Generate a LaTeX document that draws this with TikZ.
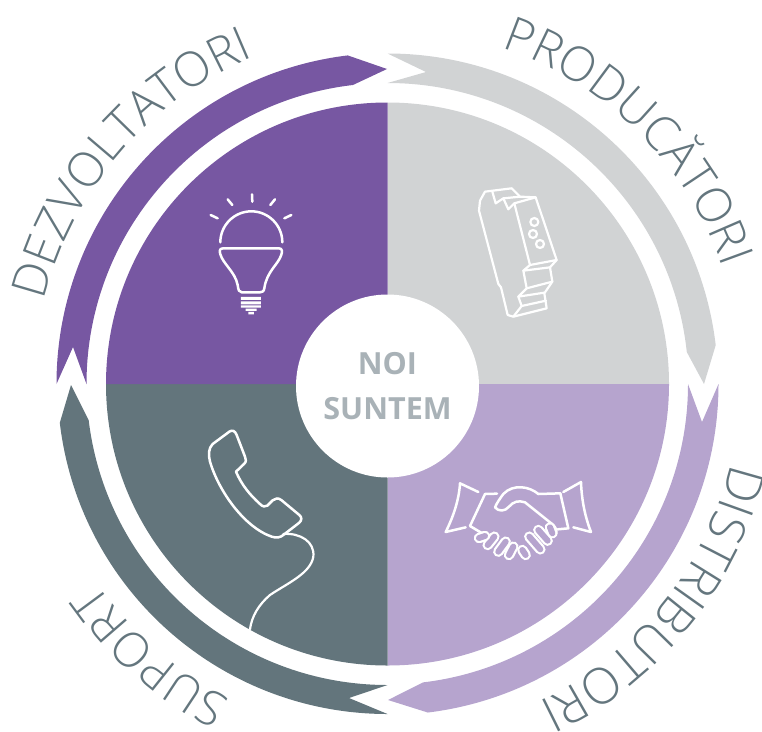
\documentclass[tikz,border=0pt]{standalone}
\usepackage{fontspec}
\setmainfont{Open Sans}
\newfontfamily\lightfont{Open Sans Light}
\usetikzlibrary{decorations.text}
\definecolor{cPurple}{HTML}{7757A2}
\definecolor{cGrey}{HTML}{D1D3D4}
\definecolor{cLilac}{HTML}{B6A4CE}
\definecolor{cSlate}{HTML}{63757C}
\definecolor{cRingText}{HTML}{64767E}
\definecolor{cCentre}{HTML}{A9B2B7}
\newcommand{\ringfont}{\fontsize{48}{48}\selectfont\lightfont\color{cRingText}}
\newcommand{\ringfontwide}{\fontsize{50}{50}\selectfont\lightfont\color{cRingText}}
\tikzset{
  icon/.style={draw=white,line width=2.5pt,line join=round,line cap=round},
  iconthin/.style={draw=white,line width=2.2pt,line join=round,line cap=round},
  ringtext/.style={decorate,decoration={text along path,text align=center,text={#1}}},
}
\newcommand{\finger}[4]{%
  \draw[white,line width=10.5pt,line cap=round] (#1,#2) -- (#3,#4);
  \draw[cLilac,line width=6pt,line cap=round] (#1,#2) -- (#3,#4);}
\begin{document}
\begin{tikzpicture}[x=1pt,y=-1pt]
\useasboundingbox (0,0) rectangle (762,731);
\coordinate (c) at (387.5,384);
% quadrants
\fill[cGrey]   (c) -- ++(-90:281.5) arc[start angle=-90,end angle=0,radius=281.5] -- cycle;
\fill[cLilac]  (c) -- ++(0:281.5) arc[start angle=0,end angle=90,radius=281.5] -- cycle;
\fill[cSlate]  (c) -- ++(90:281.5) arc[start angle=90,end angle=180,radius=281.5] -- cycle;
\fill[cPurple] (c) -- ++(180:281.5) arc[start angle=180,end angle=270,radius=281.5] -- cycle;
% ring arrows
\coordinate (gn) at (426,72);   \coordinate (gt) at (704,384);
\coordinate (ln) at (702,422);  \coordinate (lt) at (388,700);
\coordinate (sn) at (349,698);  \coordinate (st) at (71,385);
\coordinate (pn) at (73,347);   \coordinate (pt) at (387,69);
\fill[cGrey] ([shift={(-90:330.5)}]c) arc[start angle=-90,end angle=-6.75,radius=330.5]
  -- (gt) -- ([shift={(-6.1:301)}]c) arc[start angle=-6.1,end angle=-90,radius=301] -- (gn) -- cycle;
\fill[cLilac] ([shift={(0:331)}]c) arc[start angle=0,end angle=83,radius=331]
  -- (lt) -- ([shift={(83.2:300.5)}]c) arc[start angle=83.2,end angle=0,radius=300.5] -- (ln) -- cycle;
\fill[cSlate] ([shift={(90:330)}]c) arc[start angle=90,end angle=173.25,radius=330]
  -- (st) -- ([shift={(173.1:301)}]c) arc[start angle=173.1,end angle=90,radius=301] -- (sn) -- cycle;
\fill[cPurple] ([shift={(180:331)}]c) arc[start angle=180,end angle=263.1,radius=331]
  -- (pt) -- ([shift={(263.4:301)}]c) arc[start angle=263.4,end angle=180,radius=301] -- (pn) -- cycle;
% ring words
\path[ringtext={|\ringfont|PRODUCĂTORI}] ([shift={(-90:355)}]c) arc[start angle=-90,end angle=-0.4,radius=355];
\path[ringtext={|\ringfontwide|DISTRIBUTORI}] ([shift={(-6:352)}]c) arc[start angle=-6,end angle=83.6,radius=352];
\path[ringtext={|\ringfont|SUPORT}] ([shift={(91:352)}]c) arc[start angle=91,end angle=171,radius=352];
\path[ringtext={|\ringfont|DEZVOLTATORI}] ([shift={(176:353)}]c) arc[start angle=176,end angle=265.4,radius=353];
% centre
\node[circle,fill=white,minimum size=183pt,inner sep=0pt,align=center,text=cCentre,font=\fontsize{30.5}{45}\selectfont\bfseries] (centre) at (387.5,386) {NOI\\SUNTEM};
% bulb
\begin{scope}[shift={(195,185)},scale=0.3333]
\draw[icon] (171,28) -- (172,50) (98,43) -- (112,60) (240,43) -- (226,60) (47,90) -- (68,100) (289,90) -- (268,100);
\draw[icon] (76,172) arc[start angle=180,end angle=360,radius=93];
\draw[icon] (85,190) -- (252,190) .. controls (262,190) and (263,200) .. (258,212) .. controls (248,240) and (215,260) .. (208,310) .. controls (207,320) and (200,322) .. (195,322) -- (140,322) .. controls (132,322) and (130,315) .. (128,300) .. controls (120,260) and (85,238) .. (76,208) .. controls (72,196) and (75,190) .. (85,190) -- cycle;
\fill[white] (138,336) rectangle (198,345) (138,349) rectangle (198,358) (138,361) rectangle (198,368) (152,371) rectangle (185,378) (160,381) rectangle (177,388);
\end{scope}
% din-rail device
\begin{scope}[shift={(465,180)},scale=0.3333]
\draw[iconthin] (60,35) -- (45,62) -- (42,92) -- (100,312) -- (108,322) -- (128,405) -- (145,410) -- (245,385) -- (238,340) -- (262,305) -- (255,262) -- (275,240) -- (212,52) -- (165,50) -- (140,25) -- cycle;
\draw[iconthin] (82,35) -- (92,70) -- (115,55) -- (130,88) -- (148,70) -- (212,52);
\draw[iconthin] (115,55) -- (165,50);
\draw[iconthin] (148,70) -- (195,255) -- (275,240);
\draw[iconthin] (195,255) -- (175,272) -- (185,325) -- (160,350) -- (170,378) -- (145,410);
\draw[iconthin] (175,272) -- (255,262) (185,325) -- (262,305) (160,350) -- (238,338) (170,378) -- (243,362);
\draw[iconthin] (208,126) circle[radius=12] (204,162) circle[radius=12] (225,192) circle[radius=12];
\end{scope}
% handshake
\begin{scope}[shift={(435,470)},scale=0.3333]
\draw[icon] (130,66) -- (75,40) .. controls (72,90) and (55,140) .. (32,186) -- (92,172);
\draw[icon] (385,66) -- (438,36) .. controls (440,90) and (450,140) .. (468,186) -- (415,172);
\draw[icon] (186,71) -- (150,72) -- (105,168) -- (150,195);
\draw[icon] (376,70) -- (400,175) -- (368,178);
\draw[icon] (376,70) -- (310,72) .. controls (285,50) and (235,40) .. (205,72) .. controls (195,85) and (185,100) .. (180,112) .. controls (190,125) and (210,125) .. (222,110) .. controls (235,95) and (250,90) .. (270,97) -- (355,165) .. controls (372,185) and (365,200) .. (350,198);
\finger{345}{172}{352}{190}
\finger{310}{180}{338}{212}
\finger{283}{200}{316}{238}
\finger{262}{240}{272}{255}
\finger{235}{230}{222}{255}
\finger{212}{215}{190}{245}
\finger{178}{200}{158}{225}
\finger{150}{198}{132}{204}
\end{scope}
% phone
\begin{scope}[shift={(200,420)},scale=0.3333]
\draw[icon] (88,35) -- (38,72) .. controls (25,85) and (25,105) .. (30,125) .. controls (55,210) and (130,320) .. (215,350) .. controls (230,355) and (242,352) .. (250,345) -- (298,308) .. controls (306,300) and (306,292) .. (298,285) -- (245,241) .. controls (235,232) and (225,235) .. (218,241) -- (202,257) .. controls (195,262) and (188,260) .. (180,252) .. controls (150,225) and (125,195) .. (108,155) -- (132,132) .. controls (140,125) and (138,118) .. (135,110) -- (110,45) .. controls (105,32) and (97,29) .. (88,35) -- cycle;
\draw[iconthin] (250,342) .. controls (300,338) and (345,365) .. (340,410) .. controls (332,460) and (262,490) .. (210,525) .. controls (175,555) and (155,590) .. (150,628);
\end{scope}
\end{tikzpicture}
\end{document}
